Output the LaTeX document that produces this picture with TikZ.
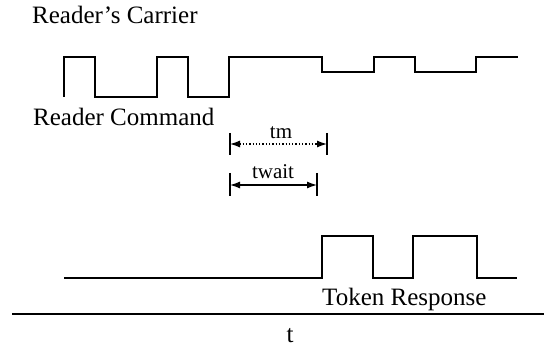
\documentclass[tikz,border=0pt]{standalone}
\usepackage{fontspec}
\setmainfont{Liberation Serif}
\usetikzlibrary{arrows.meta}

\tikzset{
    wave/.style={-,black,line width=1.8pt},
    label/.style={inner sep=0pt,font=\fontsize{25}{30}\selectfont},
    small/.style={inner sep=0pt,font=\fontsize{21}{25}\selectfont},
    bar/.style={black,line width=1.5pt},
    span/.style={{Latex[length=10pt,width=7pt]}-{Latex[length=10pt,width=7pt]},black,line width=1.3pt}
}

\begin{document}
\begin{tikzpicture}[x=1pt,y=-1pt]
        \useasboundingbox (0,0) rectangle (544,350);

        \node[label,anchor=base west] at (32,23.3) (carrier){Reader's Carrier};
        \node[label,anchor=base west] at (33,126) (command){Reader Command};
        \node[label,anchor=base west] at (322,305) (response){Token Response};
        \node[label,anchor=base] at (290,342) (time){t};

        % carrier with the command pulses, then the modulated part
        \draw[wave] (64,97) -- (64,57) -- (95,57) -- (95,97) -- (157,97) -- (157,57)
            -- (188,57) -- (188,97) -- (229,97) -- (229,57) -- (322,57) -- (322,72)
            -- (374,72) -- (374,57) -- (415,57) -- (415,72) -- (476,72) -- (476,57)
            -- (518,57);

        % token response
        \draw[wave] (64,278) -- (322,278) -- (322,236) -- (373,236) -- (373,278)
            -- (413,278) -- (413,236) -- (477,236) -- (477,278) -- (517,278);

        % time axis
        \draw[wave] (12,314) -- (544,314);

        % tm
        \coordinate (tmL) at (230,144);
        \coordinate (tmR) at (327,144);
        \draw[bar] (230,133) -- (230,155); %tm left
        \draw[bar] (327,133) -- (327,155); %tm right
        \draw[span,dotted] (tmL) -- (tmR);
        \node[small,anchor=base] at (281,139) (tm){tm};

        % twait
        \coordinate (twL) at (230,185);
        \coordinate (twR) at (317,185);
        \draw[bar] (230,173) -- (230,196); %twait left
        \draw[bar] (317,173) -- (317,196); %twait right
        \draw[span] (twL) -- (twR);
        \node[small,anchor=base] at (273,179) (twait){twait};
\end{tikzpicture}
\end{document}
